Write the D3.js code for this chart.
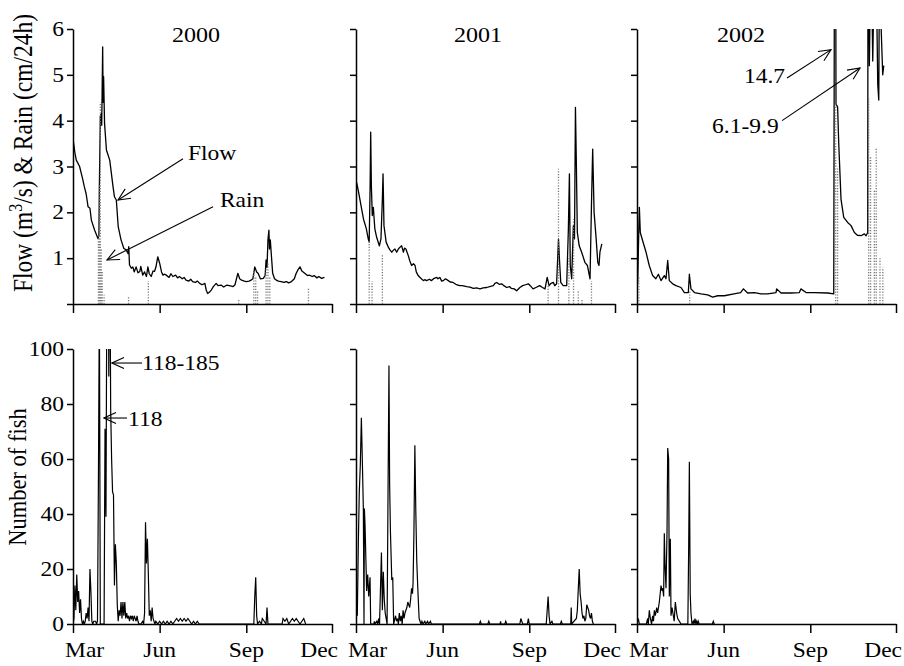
<!DOCTYPE html>
<html><head><meta charset="utf-8">
<script src="https://cdn.jsdelivr.net/npm/d3@7"></script>
<style>body{margin:0;background:#fff}svg{display:block}</style>
</head><body><svg id="c" width="904" height="666"></svg>
<script>
// ---------- data (day offset from 1 March) ----------
const years = ["2000","2001","2002"];
const monthTicks = [0, 92, 184, 275];
const monthLabels = ["Mar","Jun","Sep","Dec"];
const flowTicks = [0,1,2,3,4,5,6];
const fishTicks = [0,20,40,60,80,100];

const flow2000 = [[0,3.61],[2,3.3],[3.5,3.14],[7,3.0],[10,2.75],[12,2.56],[14,2.4],[16,2.12],[18,2.09],[19.5,1.83],[23,1.61],[26.5,1.43],[27.5,1.5],[28,2.56],[29,4.09],[30,4.15],[30.5,3.9],[31.5,5.61],[32,4.4],[32.5,4.96],[33.5,3.94],[35.5,3.36],[39,3.14],[42.5,2.56],[44,2.34],[46,2.27],[48,1.69],[51,1.4],[54,1.21],[56.5,1.18],[58.5,1.1],[59.2,1.25],[60,0.85],[62,0.78],[63.5,0.81],[65,0.7],[67,0.81],[69,0.68],[71,0.71],[72,0.82],[74,0.63],[76,0.7],[78,0.6],[79.5,0.81],[81,0.66],[83,0.6],[85,0.72],[86.5,0.71],[88,0.8],[90,1.03],[92,0.89],[94,0.7],[95.5,0.63],[97,0.65],[99,0.63],[102,0.58],[104,0.66],[106,0.6],[109,0.63],[111,0.57],[113,0.6],[116,0.55],[118,0.58],[120,0.52],[123,0.5],[125,0.54],[127,0.49],[130,0.47],[132,0.5],[134.5,0.45],[137,0.42],[140,0.45],[141.5,0.3],[143,0.23],[145,0.26],[147,0.31],[149,0.38],[152,0.45],[154,0.4],[157.5,0.41],[160,0.37],[163,0.41],[166,0.4],[170,0.38],[172,0.42],[175,0.67],[177,0.55],[179,0.52],[182,0.5],[184,0.49],[187,0.5],[189,0.52],[191,0.55],[193,0.81],[195,0.7],[196.5,0.67],[199,0.55],[202,0.56],[204,0.62],[205,0.96],[206,0.8],[207,1.4],[208,1.61],[208.6,1.2],[209.5,1.4],[210.5,1.1],[212,0.67],[214,0.55],[216,0.52],[218,0.5],[221,0.49],[224,0.47],[226.5,0.49],[229,0.46],[232,0.49],[235,0.55],[237,0.67],[239,0.75],[241,0.81],[243,0.72],[246,0.67],[249,0.62],[251,0.63],[254,0.6],[256,0.62],[259,0.57],[261,0.6],[264,0.56],[267,0.58]];
const rain2000 = [[27,1.5],[28,2.6],[29,4.4],[30,1.2],[31,0.7],[33,0.2],[59,0.15],[80,0.5],[176,0.1],[192,0.7],[194,0.6],[196,0.3],[205,0.8],[207,0.9],[209,0.6],[250,0.35]];
const fish2000 = [[0,0],[1,2],[2,14],[3,5],[4,18],[5,8],[6,12],[7,4],[8,9],[9,2],[10,0],[11,1],[12,0],[13,1],[14,4],[15,2],[16,6],[17,1],[18,20],[19,12],[20,1],[21,0],[22,1],[24,1],[25,0],[26,1],[27,53],[28,118],[29,0],[33,0],[34,71],[35,39],[36,130],[37,185],[38,90],[39,150],[40,78],[41,60],[42,48],[43,47],[44,14],[45,29],[46,22],[47,7],[48,1],[49,5],[50,3],[51,8],[52,2],[53,8],[54,3],[55,8],[56,2],[57,4],[58,2],[59,3],[60,1],[61,3],[62,2],[63,3],[64,1],[65,3],[66,2],[67,1],[68,3],[69,1],[70,0],[72,0],[74,1],[75,0],[76,4],[77,37],[78,22],[79,31],[80,18],[81,3],[82,5],[83,1],[84,6],[85,2],[86,1],[87,0],[88,1],[90,0],[92,1],[94,0],[96,1],[98,0],[100,1],[102,0],[104,1],[106,0],[108,1],[110,2],[112,1],[114,2],[116,1],[118,2],[120,1],[122,2],[124,1],[126,0],[128,1],[130,0],[132,1],[134,0],[192,0],[193,10],[194,17],[195,3],[196,0],[198,1],[200,0],[201,2],[203,1],[205,0],[206,6],[207,0],[222,0],[223,2],[225,1],[227,2],[229,0],[231,1],[233,2],[235,1],[237,2],[239,1],[241,0],[243,1],[245,2],[247,0]];

const flow2001 = [[0.7,2.65],[2.5,2.47],[4,2.3],[6,2.07],[8,1.85],[11,1.64],[13,1.42],[14,1.35],[15,2.58],[15.6,3.75],[16.3,2.58],[17.3,1.93],[18.4,2.11],[20,1.64],[22,1.45],[24.8,1.27],[26.5,1.42],[28,2.29],[28.7,2.84],[29.7,1.71],[32,1.35],[34.3,1.24],[36,1.18],[38,1.13],[40,1.18],[41.4,1.2],[43.2,1.13],[45,1.2],[46.7,1.24],[48.5,1.27],[50.3,1.13],[51.5,1.22],[53,1.2],[55.6,1.05],[57,0.95],[59,0.84],[61,0.88],[62.7,0.84],[64,0.7],[66,0.62],[68,0.58],[71.5,0.51],[73,0.53],[75,0.51],[78,0.54],[80,0.51],[83,0.56],[85.7,0.58],[87,0.55],[89,0.58],[91,0.5],[92.7,0.51],[95,0.55],[98,0.51],[100,0.48],[103,0.47],[106,0.43],[110,0.4],[113,0.4],[117.5,0.38],[121,0.37],[124.6,0.34],[128,0.35],[131.7,0.33],[135,0.35],[138.8,0.36],[142,0.38],[145.8,0.4],[147.5,0.45],[149.4,0.47],[152,0.43],[154.7,0.44],[157,0.4],[160,0.36],[163,0.38],[165,0.34],[168,0.33],[170.6,0.29],[174,0.36],[177,0.4],[180,0.42],[183,0.44],[185,0.4],[188,0.33],[191,0.36],[195,0.4],[198,0.36],[200.7,0.33],[203,0.58],[205,0.4],[207,0.45],[209.6,0.47],[211,0.4],[213,0.44],[215,1.42],[216,0.98],[217.4,0.47],[220,0.4],[223.7,0.4],[225.5,1.64],[226.6,2.84],[227.5,0.84],[229,0.55],[230.8,1.71],[232,1.42],[233,4.29],[234,3.02],[235,1.56],[237,1.27],[239.6,1.13],[243,0.91],[245.7,0.84],[248.5,0.55],[250,2.15],[251.3,3.38],[252.8,2.0],[255,1.42],[256.7,0.91],[258,0.84],[259,1.13],[261,1.31]];
const rain2001 = [[14,1.4],[17,0.5],[28,1.1],[204,0.4],[215,2.95],[226,1.0],[231,1.85],[236,0.3],[240,0.1],[250,0.5]];
const fish2001 = [[0,0],[0.7,12],[1.4,3],[2.5,30],[3.5,48],[4.6,58],[5.7,75],[6.7,60],[7.8,42],[8.5,0],[8.9,42],[9.6,36],[10.6,22],[11.3,12],[12.4,18],[13.5,10],[14.9,17],[15.6,0],[19,0],[19.5,1],[20,0],[22,1],[23,0],[24,2],[25,0],[27,26],[28,5],[29,19],[30,9],[31,4],[32,2],[33,0],[34,47],[35,94],[35.7,51],[36.6,33],[38,16],[39,17],[40,0],[42,3],[43,1],[44,2],[45,0],[46,4],[47,1],[48,3],[49,0],[50,5],[51,2],[52,4],[53,5],[54,6],[55,8],[56,7],[57,6],[58,9],[59,13],[60,11],[60.6,15],[61.5,33],[62.5,65],[63.5,41],[64.5,23],[65.5,14],[67,2],[68,1],[69,0],[70,1],[71,0],[73,1],[74,0],[76,1],[77,0],[79,1],[80,0],[131,0],[132,1],[133,0],[140,0],[141,1],[142,0],[153,0],[153.5,1],[154,0],[158,0],[159,1],[160,0],[174,0],[174.5,1],[175,2],[176,1],[177,0],[182,0],[183,2],[184,0],[202,0],[203,5],[204,10],[205,3],[206,0],[208,1],[209,0],[217,0],[218,1],[219,0],[228,0],[228.5,6],[229,0],[234,2],[235,5],[237,20],[238,11],[239,8],[240,4],[241,2],[242,3],[243,1],[244,2],[245,7],[246,6],[247,5],[248,3],[249,2],[250,4],[251,1],[252,0]];

const flow2002 = [[0.7,0.44],[1.8,1.5],[2.5,2.11],[3.5,1.56],[6,1.38],[9.6,1.13],[13,0.84],[16.6,0.62],[20,0.55],[22.7,0.65],[25.5,0.51],[29,0.62],[30.8,0.55],[32.6,0.95],[34.3,0.51],[37.9,0.44],[41.4,0.4],[46.7,0.36],[50.3,0.25],[54.5,0.25],[55.6,0.65],[57.3,0.33],[61,0.25],[68,0.22],[75,0.2],[80.4,0.15],[85.7,0.18],[92.7,0.18],[103,0.22],[110,0.25],[113,0.33],[117.5,0.24],[124.6,0.25],[131.7,0.22],[138.8,0.22],[147.6,0.25],[148.3,0.33],[153,0.24],[163.5,0.24],[172.4,0.25],[174,0.33],[179.5,0.25],[188,0.25],[202.5,0.24],[208.9,0.22],[210.3,14.7],[211.3,4.36],[213,4.3],[214.2,3.5],[215.2,3.0],[216.6,2.29],[219.5,1.89],[223.7,1.78],[227.3,1.71],[230.8,1.56],[234,1.5],[237.9,1.49],[241.4,1.53],[243.2,1.49],[245,1.56],[245.3,9.9],[246.7,5.2],[248.5,8.0],[250.3,5.3],[251.3,6.5],[252.8,9.0],[254.2,7.0],[255.6,4.8],[256.7,4.45],[257.7,8.5],[259.1,6.1],[260.9,5.0],[262,5.2]];
const rain2002 = [[2,0.6],[56,0.3],[211,4.4],[213,3.0],[246,4.5],[248,3.2],[252,2.5],[254,3.4],[258,1.0],[261,0.8]];
const fish2002 = [[0,0],[1.4,2],[2.5,0],[10,0],[11.3,2],[12,0],[13.1,5],[14.2,2],[15.5,0],[16.6,3],[17.5,1],[18.4,5],[19.5,3],[20.9,6],[21.9,4],[23.7,8],[25.5,14],[26.6,12],[27.3,13],[28.3,10],[29,33],[29.7,22],[30.8,13],[31.9,34],[32.6,64],[33.6,60],[34.3,10],[35.4,31],[36.1,3],[37.2,6],[38.6,3],[39.5,1],[40.7,8],[42.1,4],[43.2,2],[45,1],[46.7,0],[54,0],[54.9,29],[55.6,59],[56.5,11],[57.3,4],[58.4,0],[59.8,1],[60.5,0],[61.6,2],[62.5,0],[63.4,1],[64.2,0],[65,1],[66,0],[80,0],[81,1],[82,0]];

const flows = [flow2000, flow2001, flow2002];
const rains = [rain2000, rain2001, rain2002];
const fishes = [fish2000, fish2001, fish2002];

// annotations in data units: [col, panel, label, labelDay, labelVal, fromDay, fromVal, toDay, toVal]
const notes = [
  [0,"top","Flow",122,3.14,116.8,3.17,47.8,2.27],
  [0,"top","Rain",156,2.12,148.7,2.12,36.1,0.96],
  [0,"bot","118-185",73.3,92.4,73.3,94.9,41.4,94.9],
  [0,"bot","118",58.4,72,57.3,74.9,32.9,74.9],
  [2,"top","14.7",113.6,4.83,159.3,4.93,206,5.55],
  [2,"top","6.1-9.9",79.7,3.73,154,4.0,236.8,5.15]
];

// ---------- layout ----------
const svg = d3.select("#c");
const colX = [73, 356, 637], W = 259;
const FONT = "'Liberation Serif','Times New Roman',serif";
const SX = 1.12;
const yTop = d3.scaleLinear().domain([0,6]).range([304,29]);
const yBot = d3.scaleLinear().domain([0,100]).range([624,349]);

const defs = svg.append("defs");
defs.append("marker").attr("id","ah").attr("viewBox","0 0 14 14")
  .attr("markerWidth",14).attr("markerHeight",14).attr("markerUnits","userSpaceOnUse")
  .attr("refX",13).attr("refY",7).attr("orient","auto")
  .append("path").attr("d","M1,1.5 L13,7 L1,12.5").attr("fill","none").attr("stroke","#000").attr("stroke-width",1.1);

function txt(x, y, s, anchor, size, rot) {
  return svg.append("text")
    .attr("transform", `translate(${x},${y}) scale(${SX},1)` + (rot ? " rotate(-90)" : ""))
    .attr("text-anchor", anchor).attr("font-family", FONT).attr("font-size", size)
    .attr("fill","#000").text(s);
}

years.forEach((yr, c) => {
  const xs = d3.scaleLinear().domain([0,275]).range([colX[c], colX[c]+W]);

  [["t",yTop],["b",yBot]].forEach(([k,ys]) => {
    defs.append("clipPath").attr("id",`clip${k}${c}`).append("rect")
      .attr("x", xs(0)).attr("y", ys.range()[1]).attr("width", W+2).attr("height", ys.range()[0]-ys.range()[1]);
  });

  [[yTop, flowTicks],[yBot, fishTicks]].forEach(([ys, tv], p) => {
    const gy = svg.append("g").attr("transform",`translate(${xs(0)},0)`)
      .call(d3.axisLeft(ys).tickValues(tv).tickSize(6).tickSizeOuter(0).tickFormat(""));
    const gx = svg.append("g").attr("transform",`translate(0,${ys(0)})`)
      .call(d3.axisBottom(xs).tickValues(monthTicks).tickSize(9).tickSizeOuter(0).tickFormat(""));
    [gy,gx].forEach(g => { g.selectAll("path,line").attr("stroke","#000").attr("stroke-width",1.5); });
    if (c === 0) {
      tv.forEach(v => { if (p === 1 || v !== 0) txt(xs(0)-9, ys(v)+7, String(v), "end", 21); });
    }
    if (p === 1) {
      monthTicks.forEach((d, i) => {
        const anchor = i === 0 ? "start" : (i === 3 ? "end" : "middle");
        const off = i === 0 ? -8 : (i === 3 ? 6 : 0);
        svg.append("text").attr("transform",`translate(${xs(d) + off},${ys(0)+33}) scale(${SX},1)`)
          .attr("text-anchor",anchor).attr("font-family",FONT).attr("font-size",21).text(monthLabels[i]);
      });
    }
  });

  svg.append("path").datum(flows[c]).attr("clip-path",`url(#clipt${c})`)
    .attr("d", d3.line().x(d=>xs(d[0])).y(d=>yTop(d[1])))
    .attr("fill","none").attr("stroke","#000").attr("stroke-width",1.3).attr("stroke-linejoin","round");
  svg.append("g").attr("clip-path",`url(#clipt${c})`).selectAll("line").data(rains[c]).join("line")
    .attr("x1", d=>xs(d[0])).attr("x2", d=>xs(d[0])).attr("y1", yTop(0)).attr("y2", d=>yTop(d[1]))
    .attr("stroke","#777").attr("stroke-width",1.3).attr("stroke-dasharray","1.2,1.6");
  svg.append("path").datum(fishes[c]).attr("clip-path",`url(#clipb${c})`)
    .attr("d", d3.line().x(d=>xs(d[0])).y(d=>yBot(d[1])))
    .attr("fill","none").attr("stroke","#000").attr("stroke-width",1.2);

  txt(xs(0)+123 + (c===0?0:c===1?-1:-19), 42, yr, "middle", 21.5);

  notes.filter(n => n[0] === c).forEach(n => {
    const ys = n[1] === "top" ? yTop : yBot;
    txt(xs(n[3]), ys(n[4]), n[2], "start", 21);
    svg.append("line").attr("x1", xs(n[5])).attr("y1", ys(n[6])).attr("x2", xs(n[7])).attr("y2", ys(n[8]))
      .attr("stroke","#000").attr("stroke-width",1.1).attr("marker-end","url(#ah)");
  });
});

const t1 = svg.append("text").attr("transform",`translate(32,153) scale(${SX},1) rotate(-90)`)
  .attr("text-anchor","middle").attr("font-family",FONT).attr("font-size",23.5);
t1.append("tspan").text("Flow (m");
t1.append("tspan").attr("dy",-9).attr("font-size",16).text("3");
t1.append("tspan").attr("dy",9).text("/s) & Rain (cm/24h)");
txt(26, 477, "Number of fish", "middle", 22.5, true);
</script>
</body></html>
